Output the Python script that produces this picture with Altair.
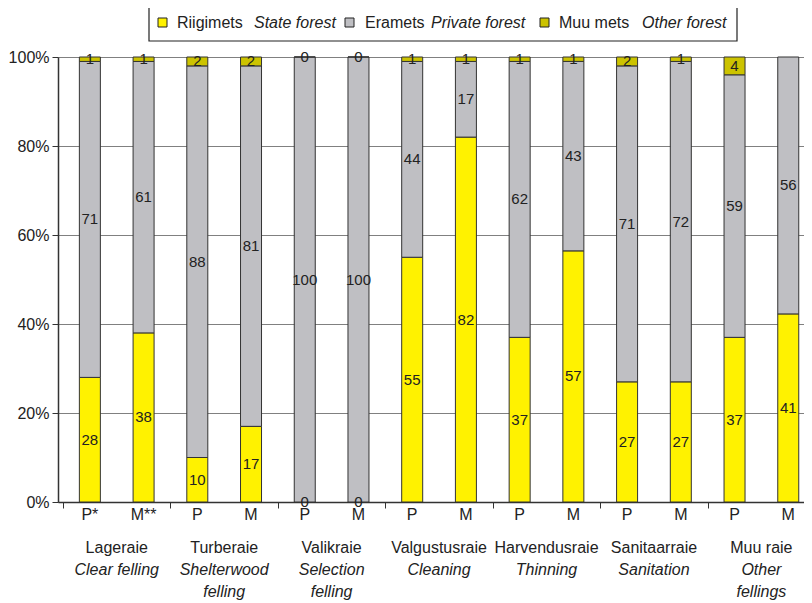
import altair as alt
import pandas as pd

bar_labels = ["P*", "M**", "P", "M", "P", "M", "P", "M", "P", "M", "P", "M", "P", "M"]
state = [28, 38, 10, 17, 0, 0, 55, 82, 37, 57, 27, 27, 37, 41]
private = [71, 61, 88, 81, 100, 100, 44, 17, 62, 43, 71, 72, 59, 56]
other = [1, 1, 2, 2, 0, 0, 1, 1, 1, 1, 2, 1, 4, None]

group_et = ["Lageraie", "Turberaie", "Valikraie", "Valgustusraie",
            "Harvendusraie", "Sanitaarraie", "Muu raie"]
group_en = ["Clear felling", "Shelterwood\nfelling", "Selection\nfelling",
            "Cleaning", "Thinning", "Sanitation", "Other\nfellings"]

series_et = ["Riigimets", "Eramets", "Muu mets"]
series_en = ["State forest", "Private forest", "Other forest"]
colors = ["#FFF200", "#BFBFC3", "#CCC300"]

rows = []
for i, lab in enumerate(bar_labels):
    for k, vals in enumerate([state, private, other]):
        v = vals[i]
        if v is None:
            continue
        rows.append(dict(idx=i, sub=lab, series=series_et[k], order=k, value=v))
df = pd.DataFrame(rows)
bars_df = pd.DataFrame({"idx": list(range(len(bar_labels))), "sub": bar_labels})
groups_df = pd.DataFrame({"g": list(range(len(group_et))), "et": group_et, "en": group_en})

FONT = "Liberation Sans"
TXT = "#222222"
FS = 16
xscale = alt.Scale(domain=[-0.5, 13.2], nice=False, zero=False)
yscale = alt.Scale(domain=[0, 1], nice=False)

base = alt.Chart(df).transform_stack(
    stack="value", groupby=["idx"], as_=["v0", "v1"], offset="normalize",
    sort=[alt.SortField("order", order="ascending")]
)

bars = base.mark_bar(size=21, stroke="#333333", strokeWidth=1).encode(
    x=alt.X("idx:Q", scale=xscale,
            axis=alt.Axis(values=[-0.5, 1.5, 3.5, 5.5, 7.5, 9.5, 11.5], labels=False,
                          grid=False, title=None, domainColor="#333333",
                          tickColor="#333333", tickSize=6, domainWidth=1.5)),
    y=alt.Y("v0:Q", scale=yscale,
            axis=alt.Axis(values=[0, 0.2, 0.4, 0.6, 0.8, 1.0], format="%", title=None,
                          gridColor="#808080", gridWidth=1, domainColor="#333333",
                          domainWidth=1.5, tickColor="#333333", tickSize=6,
                          labelFontSize=FS, labelColor=TXT, labelPadding=3,
                          labelFont=FONT)),
    y2="v1:Q",
    color=alt.Color("series:N", scale=alt.Scale(domain=series_et, range=colors), legend=None),
)

vlabels = base.transform_calculate(mid="(datum.v0 + datum.v1) / 2").mark_text(
    font=FONT, fontSize=15, color=TXT, baseline="middle"
).encode(x=alt.X("idx:Q", scale=xscale), y=alt.Y("mid:Q", scale=yscale), text="value:Q")

sublabels = alt.Chart(bars_df).mark_text(
    font=FONT, fontSize=FS, color=TXT, baseline="middle"
).encode(x=alt.X("idx:Q", scale=xscale), y=alt.value(458), text="sub:N")

grp_et = alt.Chart(groups_df).transform_calculate(xc="2 * datum.g + 0.5").mark_text(
    font=FONT, fontSize=FS, color=TXT, baseline="middle"
).encode(x=alt.X("xc:Q", scale=xscale), y=alt.value(491), text="et:N")

grp_en = alt.Chart(groups_df).transform_calculate(xc="2 * datum.g + 0.5").mark_text(
    font=FONT, fontSize=FS, color=TXT, baseline="top", fontStyle="italic",
    lineBreak="\n", lineHeight=22
).encode(x=alt.X("xc:Q", scale=xscale), y=alt.value(505), text="en:N")

one = pd.DataFrame({"a": [0]})
legend_layers = [
    alt.Chart(one).mark_rect(fill="white", stroke="#222222", strokeWidth=1.2).encode(
        x=alt.value(91), x2=alt.value(679), y=alt.value(-52), y2=alt.value(-16))
]
sw_x = [100, 287, 482]
et_x = [119, 307, 501]
en_x = [196, 373, 584]
for k in range(3):
    legend_layers.append(
        alt.Chart(one).mark_rect(fill=colors[k], stroke="#222222", strokeWidth=1).encode(
            x=alt.value(sw_x[k]), x2=alt.value(sw_x[k] + 9),
            y=alt.value(-39), y2=alt.value(-30)))
    legend_layers.append(
        alt.Chart(one).mark_text(font=FONT, fontSize=FS, color=TXT, align="left",
                                 baseline="middle").encode(
            x=alt.value(et_x[k]), y=alt.value(-34), text=alt.value(series_et[k])))
    legend_layers.append(
        alt.Chart(one).mark_text(font=FONT, fontSize=FS, color=TXT, align="left",
                                 baseline="middle", fontStyle="italic").encode(
            x=alt.value(en_x[k]), y=alt.value(-34), text=alt.value(series_en[k])))

chart = alt.layer(bars, vlabels, sublabels, grp_et, grp_en, *legend_layers).properties(
    width=746, height=445,
    padding={"left": 50, "top": 49, "right": 0, "bottom": 100},
    autosize="none",
).configure_view(stroke=None).configure(background="white")

chart.save("out.html", embed_options={"renderer": "svg", "actions": False})
